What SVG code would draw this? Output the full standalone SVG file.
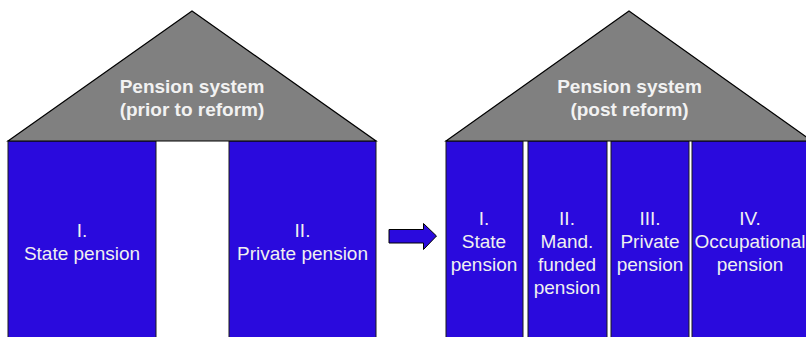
<svg xmlns="http://www.w3.org/2000/svg" width="806" height="337" viewBox="0 0 806 337">
<style>
.roof{fill:#808080;stroke:#000;stroke-width:1.2;stroke-linejoin:miter}
.col{fill:#2a0add;stroke:#1a1a1a;stroke-width:1}
.rt{font-family:"Liberation Sans",Arial,sans-serif;font-size:19px;font-weight:bold;fill:#f2f2f2;text-anchor:middle}
.ct{font-family:"Liberation Sans",Arial,sans-serif;font-size:19px;fill:#f0f0f0;text-anchor:middle}
</style>
<rect width="806" height="337" fill="#fff"/>
<g id="left-house">
  <g id="left-col-1">
    <rect class="col" x="8" y="141" width="148" height="200"/>
    <text class="ct" x="82" y="237">I.</text>
    <text class="ct" x="82" y="260">State pension</text>
  </g>
  <g id="left-col-2">
    <rect class="col" x="229" y="141" width="147" height="200"/>
    <text class="ct" x="302.5" y="237">II.</text>
    <text class="ct" x="302.5" y="260">Private pension</text>
  </g>
  <g id="left-roof">
    <polygon class="roof" points="8,141 192,11 376,141"/>
    <text class="rt" x="192" y="93">Pension system</text>
    <text class="rt" x="192" y="116">(prior to reform)</text>
  </g>
</g>
<g id="connectors">
  <polygon points="389,229.5 423.5,229.5 423.5,223.5 436.5,236 423.5,249.5 423.5,243 389,243" fill="#2a0add" stroke="#000" stroke-width="1"/>
</g>
<g id="right-house">
  <g id="right-col-1">
    <rect class="col" x="446" y="141" width="77" height="200"/>
    <text class="ct" x="484" y="225">I.</text>
    <text class="ct" x="484" y="248">State</text>
    <text class="ct" x="484" y="271">pension</text>
  </g>
  <g id="right-col-2">
    <rect class="col" x="528" y="141" width="79" height="200"/>
    <text class="ct" x="567" y="225">II.</text>
    <text class="ct" x="567" y="248">Mand.</text>
    <text class="ct" x="567" y="271">funded</text>
    <text class="ct" x="567" y="294">pension</text>
  </g>
  <g id="right-col-3">
    <rect class="col" x="611" y="141" width="78" height="200"/>
    <text class="ct" x="650" y="225">III.</text>
    <text class="ct" x="650" y="248">Private</text>
    <text class="ct" x="650" y="271">pension</text>
  </g>
  <g id="right-col-4">
    <rect class="col" x="692" y="141" width="130" height="200"/>
    <text class="ct" x="750" y="225">IV.</text>
    <text class="ct" x="750" y="248">Occupational</text>
    <text class="ct" x="750" y="271">pension</text>
  </g>
  <g id="right-roof">
    <polygon class="roof" points="446,141 629,11 812,141"/>
    <text class="rt" x="629.5" y="93">Pension system</text>
    <text class="rt" x="629.5" y="116">(post reform)</text>
  </g>
</g>
</svg>
